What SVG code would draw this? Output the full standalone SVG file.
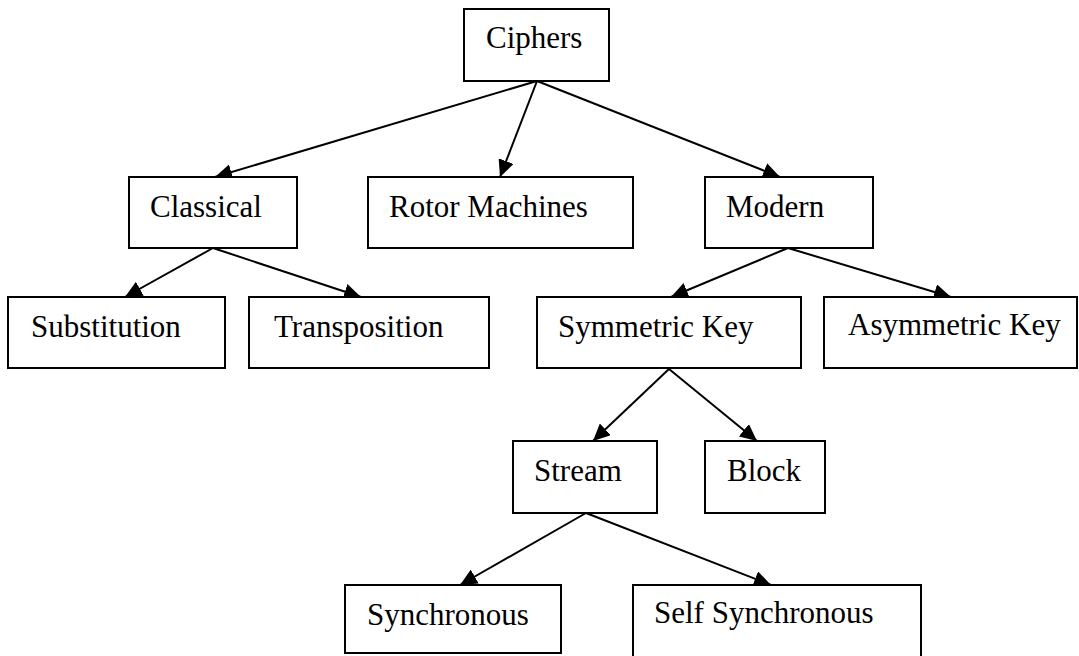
<svg xmlns="http://www.w3.org/2000/svg" width="1079" height="656" viewBox="0 0 1079 656">
  <style>
    .box { fill: #ffffff; stroke: #000000; stroke-width: 2; }
    .lbl { font-family: "Liberation Serif", "Times New Roman", serif; font-size: 31px; fill: #000000; }
    .edge { stroke: #000000; stroke-width: 2; fill: none; marker-end: url(#arrow); }
  </style>
  <defs>
    <marker id="arrow" markerUnits="userSpaceOnUse" markerWidth="18" markerHeight="16" refX="17" refY="8" orient="auto">
      <path d="M0,0 L17,8 L0,16 Z" fill="#000000"/>
    </marker>
  </defs>

  <rect width="1079" height="656" fill="#ffffff"/>

  <g id="connectors">
    <line class="edge" x1="537" y1="81" x2="215" y2="177"/>
    <line class="edge" x1="537" y1="81" x2="500" y2="177"/>
    <line class="edge" x1="537" y1="81" x2="780" y2="177"/>
    <line class="edge" x1="213" y1="248" x2="125" y2="297"/>
    <line class="edge" x1="213" y1="248" x2="361" y2="297"/>
    <line class="edge" x1="788" y1="248" x2="671" y2="297"/>
    <line class="edge" x1="788" y1="248" x2="951" y2="297"/>
    <line class="edge" x1="669" y1="369" x2="593" y2="441"/>
    <line class="edge" x1="669" y1="369" x2="757" y2="441"/>
    <line class="edge" x1="586" y1="513" x2="460" y2="585"/>
    <line class="edge" x1="586" y1="513" x2="771" y2="585"/>
  </g>

  <g id="ciphers">
    <rect class="box" x="464" y="9" width="145" height="72"/>
    <text class="lbl" x="486" y="48">Ciphers</text>
  </g>

  <g id="classical">
    <rect class="box" x="129" y="177" width="168" height="71"/>
    <text class="lbl" x="150" y="217">Classical</text>
  </g>

  <g id="rotor-machines">
    <rect class="box" x="368" y="177" width="265" height="71"/>
    <text class="lbl" x="389" y="217">Rotor Machines</text>
  </g>

  <g id="modern">
    <rect class="box" x="705" y="177" width="168" height="71"/>
    <text class="lbl" x="726" y="217">Modern</text>
  </g>

  <g id="substitution">
    <rect class="box" x="8" y="297" width="217" height="71"/>
    <text class="lbl" x="31" y="337">Substitution</text>
  </g>

  <g id="transposition">
    <rect class="box" x="249" y="297" width="240" height="71"/>
    <text class="lbl" x="274" y="337">Transposition</text>
  </g>

  <g id="symmetric-key">
    <rect class="box" x="537" y="297" width="264" height="71"/>
    <text class="lbl" x="558" y="337">Symmetric Key</text>
  </g>

  <g id="asymmetric-key">
    <rect class="box" x="824" y="297" width="253" height="71"/>
    <text class="lbl" x="848" y="335">Asymmetric Key</text>
  </g>

  <g id="stream">
    <rect class="box" x="513" y="441" width="144" height="72"/>
    <text class="lbl" x="534" y="481">Stream</text>
  </g>

  <g id="block">
    <rect class="box" x="705" y="441" width="120" height="72"/>
    <text class="lbl" x="727" y="481">Block</text>
  </g>

  <g id="synchronous">
    <rect class="box" x="345" y="585" width="216" height="68"/>
    <text class="lbl" x="367" y="625">Synchronous</text>
  </g>

  <g id="self-synchronous">
    <rect class="box" x="633" y="585" width="288" height="74"/>
    <text class="lbl" x="654" y="623">Self Synchronous</text>
  </g>
</svg>
